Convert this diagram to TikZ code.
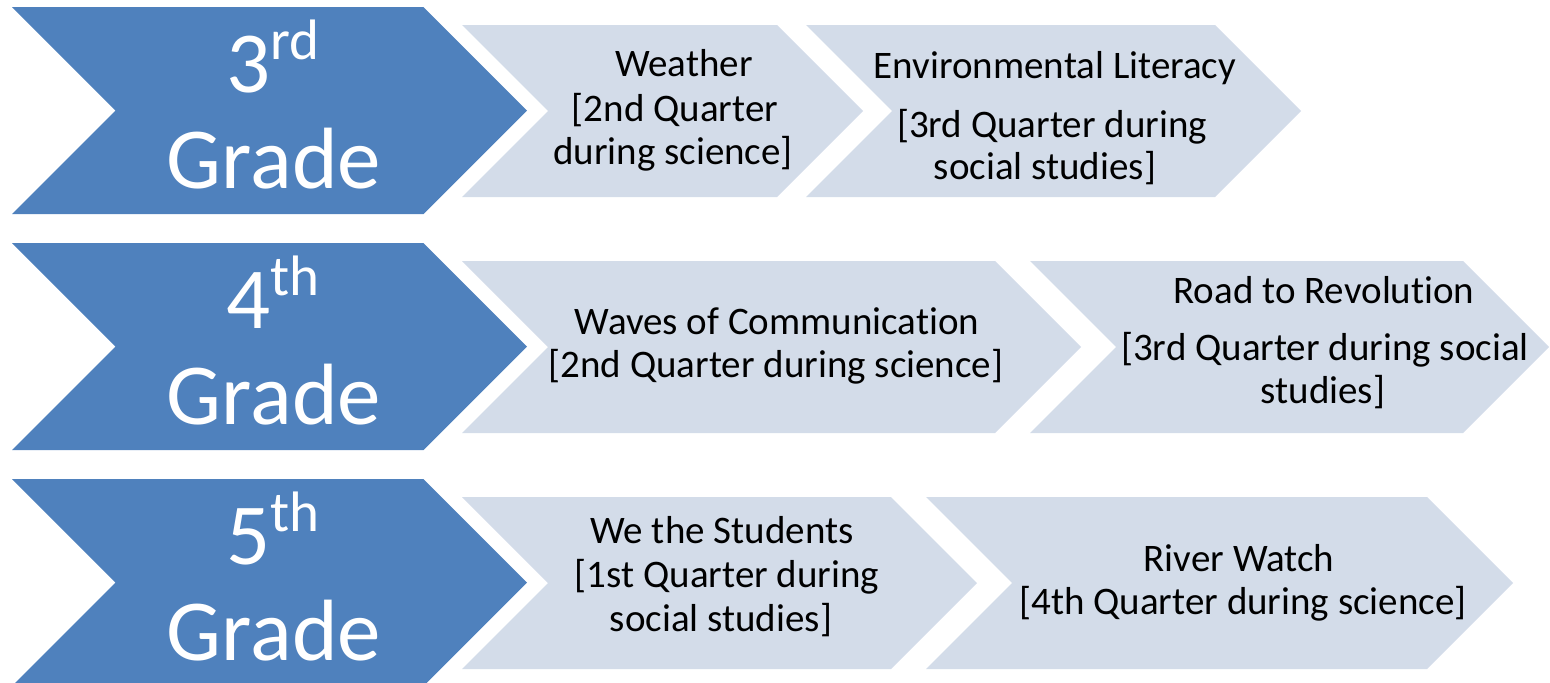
\documentclass[tikz,border=0pt]{standalone}
\usepackage{fontspec}
\setmainfont{Carlito}[Ligatures=NoCommon]
\definecolor{dkblue}{HTML}{4F81BD}
\definecolor{ltblue}{RGB}{211,220,233}
\newcommand\chevshape[5]{\path[#1] (#2,#4) -- (#3,#4) -- ({#3+#5},{#4+#5}) -- (#3,{#4+2*#5}) -- (#2,{#4+2*#5}) -- ({#2+#5},{#4+#5}) -- cycle;}
\newcommand\gradesup[1]{\raisebox{16.5pt}{\fontsize{28.5pt}{28.5pt}\selectfont #1}}
\tikzset{
  dk/.style={fill=dkblue},
  lt/.style={fill=ltblue},
  gradetxt/.style={anchor=base,inner sep=0pt,text=white,font=\fontsize{43.5pt}{43.5pt}\selectfont},
  topictxt/.style={anchor=base,inner sep=0pt,text=black,font=\fontsize{19.5pt}{19.5pt}\selectfont}
}
\begin{document}
\begin{tikzpicture}[x=0.5pt,y=-0.5pt]
\useasboundingbox (0,0) rectangle (1550,682);
% row 1
\chevshape{dk}{12}{423.5}{7}{103.5}
\chevshape{lt}{462}{777}{25}{86}
\chevshape{lt}{806}{1215}{25}{86}
% row 2
\chevshape{dk}{12}{423.5}{243}{103.5}
\chevshape{lt}{462}{995}{261}{86}
\chevshape{lt}{1030}{1463}{261}{86}
% row 3
\chevshape{dk}{12}{423.5}{479}{103.5}
\chevshape{lt}{462}{891}{497}{86}
\chevshape{lt}{926}{1427}{497}{86}
% grade labels
\node[gradetxt] (g3a) at (273,92) {3\gradesup{rd}};
\node[gradetxt] (g3b) at (274,188) {Grade};
\node[gradetxt] (g4a) at (273,328) {4\gradesup{th}};
\node[gradetxt] (g4b) at (274,424) {Grade};
\node[gradetxt] (g5a) at (273,564) {5\gradesup{th}};
\node[gradetxt] (g5b) at (274,660) {Grade};
% row 1 topics
\node[topictxt] (w1) at (684,76) {Weather};
\node[topictxt] (w2) at (675,121) {[2nd Quarter};
\node[topictxt] (w3) at (673,164) {during science]};
\node[topictxt] (e1) at (1055,78) {Environmental Literacy};
\node[topictxt] (e2) at (1052,137) {[3rd Quarter during};
\node[topictxt] (e3) at (1045,179) {social studies]};
% row 2 topics
\node[topictxt] (c1) at (777,334) {Waves of Communicat\kern0pt ion};
\node[topictxt] (c2) at (776,377) {[2nd Quarter during science]};
\node[topictxt] (r1) at (1324,303) {Road to Revolut\kern0pt ion};
\node[topictxt] (r2) at (1325,360) {[3rd Quarter during social};
\node[topictxt] (r3) at (1323,403) {studies]};
% row 3 topics
\node[topictxt] (s1) at (722,543) {We the Students};
\node[topictxt] (s2) at (727,587) {[1st Quarter during};
\node[topictxt] (s3) at (721,631) {social studies]};
\node[topictxt] (v1) at (1239,571) {River Watch};
\node[topictxt] (v2) at (1243,614) {[4th Quarter during science]};
\end{tikzpicture}
\end{document}
